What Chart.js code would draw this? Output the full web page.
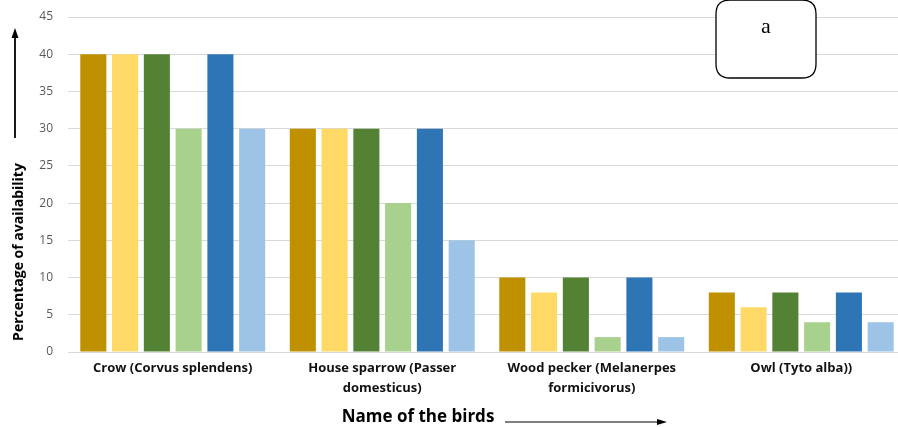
<!DOCTYPE html>
<html>
<head>
<meta charset="utf-8">
<script src="https://cdn.jsdelivr.net/npm/chart.js@4.4.1/dist/chart.umd.min.js"></script>
<style>
  html, body { margin: 0; padding: 0; background: #fff; overflow: hidden; }
  #wrap { position: relative; width: 908px; height: 427px; }
</style>
</head>
<body>
<div id="wrap"><canvas id="birdChart" width="908" height="427"></canvas></div>
<script>
// bird availability by site
const birds = [
  "Crow (Corvus splendens)",
  ["House sparrow (Passer", "domesticus)"],
  ["Wood pecker (Melanerpes", "formicivorus)"],
  "Owl (Tyto alba))"
];
const series1 = [40, 30, 10, 8];
const series2 = [40, 30, 8, 6];
const series3 = [40, 30, 10, 8];
const series4 = [30, 20, 2, 4];
const series5 = [40, 30, 10, 8];
const series6 = [30, 15, 2, 4];
const colours = ["#BF9000", "#FFD966", "#548235", "#A9D18E", "#2E75B6", "#9DC3E6"];

const allSeries = [series1, series2, series3, series4, series5, series6];

// axis titles, arrows and the "a" panel label
const extras = {
  id: "extras",
  afterDraw(chart) {
    const c = chart.ctx;
    c.save();
    c.fillStyle = "#000";
    c.strokeStyle = "#000";

    // y title + up arrow
    c.save();
    c.translate(19, 252);
    c.rotate(-Math.PI / 2);
    c.font = "bold 14px 'Open Sans'";
    c.textAlign = "center";
    c.textBaseline = "middle";
    c.fillText("Percentage of availability", 0, 0);
    c.restore();
    c.lineWidth = 1.8;
    c.beginPath();
    c.moveTo(15, 138);
    c.lineTo(15, 36);
    c.stroke();
    c.beginPath();
    c.moveTo(15, 28);
    c.lineTo(11.5, 38);
    c.lineTo(18.5, 38);
    c.closePath();
    c.fill();

    // x title + right arrow
    c.font = "bold 17px 'Open Sans'";
    c.textAlign = "center";
    c.textBaseline = "middle";
    c.fillText("Name of the birds", 418, 417);
    c.lineWidth = 1.2;
    c.beginPath();
    c.moveTo(505, 422);
    c.lineTo(660, 422);
    c.stroke();
    c.beginPath();
    c.moveTo(667, 422);
    c.lineTo(657, 419);
    c.lineTo(657, 425);
    c.closePath();
    c.fill();

    // rounded box "a"
    const x = 716, y = 0, w = 100, h = 78, r = 14;
    c.fillStyle = "#fff";
    c.lineWidth = 1.3;
    c.beginPath();
    c.moveTo(x + r, y);
    c.lineTo(x + w - r, y);
    c.quadraticCurveTo(x + w, y, x + w, y + r);
    c.lineTo(x + w, y + h - r);
    c.quadraticCurveTo(x + w, y + h, x + w - r, y + h);
    c.lineTo(x + r, y + h);
    c.quadraticCurveTo(x, y + h, x, y + h - r);
    c.lineTo(x, y + r);
    c.quadraticCurveTo(x, y, x + r, y);
    c.closePath();
    c.fill();
    c.stroke();
    c.fillStyle = "#000";
    c.font = "22px 'Liberation Serif'";
    c.fillText("a", x + w / 2, 27);
    c.restore();
  }
};

new Chart(document.getElementById("birdChart"), {
  type: "bar",
  data: {
    labels: birds,
    datasets: allSeries.map((vals, i) => ({
      label: "Series " + (i + 1),
      data: vals,
      backgroundColor: colours[i],
      barPercentage: 0.82,
      categoryPercentage: 0.91
    }))
  },
  options: {
    responsive: false,
    animation: false,
    layout: { padding: { top: 17, right: 2, left: 0, bottom: 0 } },
    plugins: {
      legend: { display: false },
      tooltip: { enabled: false }
    },
    scales: {
      x: {
        grid: { display: false, drawTicks: false },
        border: { color: "#d9d9d9" },
        ticks: {
          color: "#111",
          font: { family: "'Open Sans'", size: 13, weight: "bold", lineHeight: 1.5 },
          padding: 7,
          maxRotation: 0,
          autoSkip: false
        },
        afterFit(scale) { scale.height = 75; }
      },
      y: {
        min: 0,
        max: 45,
        ticks: {
          stepSize: 5,
          color: "#595959",
          font: { family: "'Open Sans'", size: 12 },
          padding: 3
        },
        // invisible tick marks keep the labels clear of the plot edge
        grid: { color: "#d9d9d9", tickColor: "rgba(0,0,0,0)", tickLength: 12 },
        border: { display: false },
        afterFit(scale) { scale.width = 68; }
      }
    }
  },
  plugins: [extras]
});
</script>
</body>
</html>
